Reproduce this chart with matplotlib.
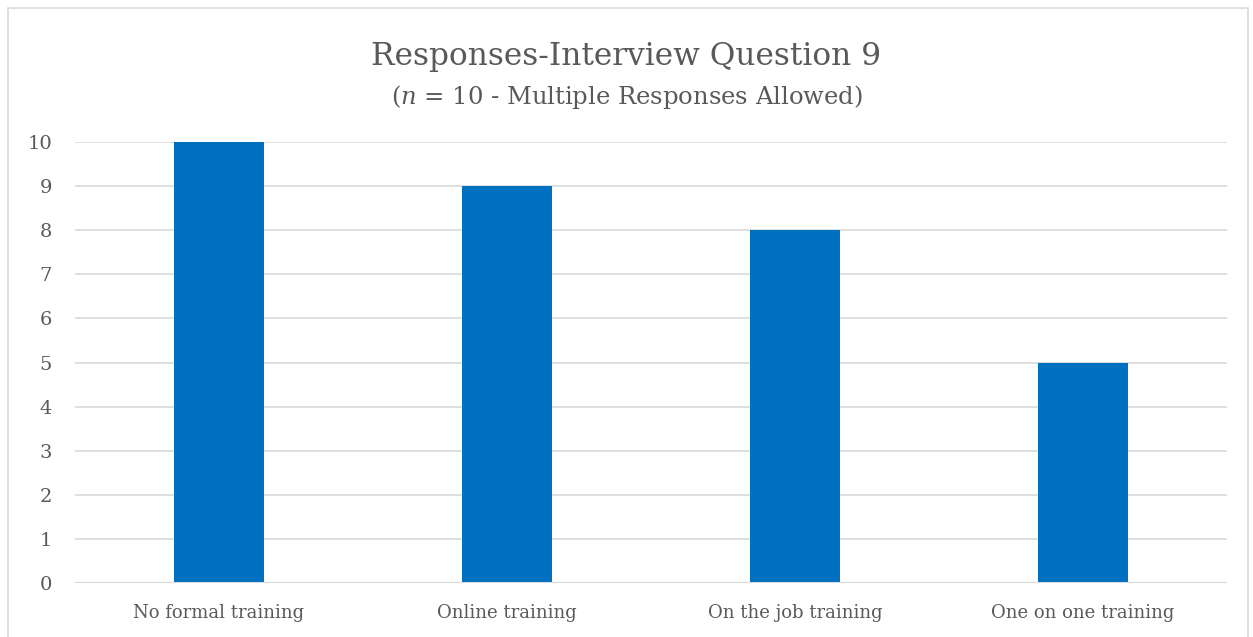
import matplotlib
matplotlib.use("Agg")
import matplotlib.pyplot as plt
from matplotlib.patches import Rectangle

categories = ["No formal training", "Online training", "On the job training", "One on one training"]
values = [10, 9, 8, 5]
yticks = [0, 1, 2, 3, 4, 5, 6, 7, 8, 9, 10]

W, H = 1253, 637
plt.rcParams['font.family'] = ['DejaVu Serif']
plt.rcParams['mathtext.fontset'] = 'dejavuserif'
fig = plt.figure(figsize=(W / 100, H / 100), dpi=100)
txt = '#595959'

# outer chart border
fig.patches.append(Rectangle((8 / W, -0.05), (1248 - 8) / W, 1.05 - 8 / H,
                             transform=fig.transFigure, fill=False,
                             edgecolor='#d9d9d9', linewidth=1.2))

ax = fig.add_axes([75 / W, 1 - 583 / H, (1227 - 75) / W, (583 - 142) / H])
x = list(range(len(categories)))
ax.bar(x, values, width=0.3125, color='#0070C0', zorder=3)
ax.set_xlim(-0.5, len(categories) - 0.5)
ax.set_ylim(0, 10)
ax.set_yticks(yticks)
ax.set_yticklabels([str(v) for v in yticks], color=txt, fontsize=14)
ax.set_xticks(x)
ax.set_xticklabels(categories, color=txt, fontsize=13)
ax.tick_params(axis='both', length=0)
ax.tick_params(axis='y', pad=16.5)
ax.tick_params(axis='x', pad=15)
for s in ax.spines.values():
    s.set_visible(False)
ax.yaxis.grid(True, color='#d9d9d9', linewidth=1.2, zorder=0)
ax.axhline(0, color='#d9d9d9', linewidth=1.5, zorder=4)
ax.set_axisbelow(True)

fig.text(0.5, 1 - 56 / H, "Responses-Interview Question 9", ha='center', va='center',
         fontsize=22.5, color=txt)
fig.text(0.5, 1 - 97 / H, r"($\mathit{n}$ = 10 - Multiple Responses Allowed)", ha='center', va='center',
         fontsize=17.5, color=txt)

fig.savefig("out.png", dpi=100, facecolor='white')
